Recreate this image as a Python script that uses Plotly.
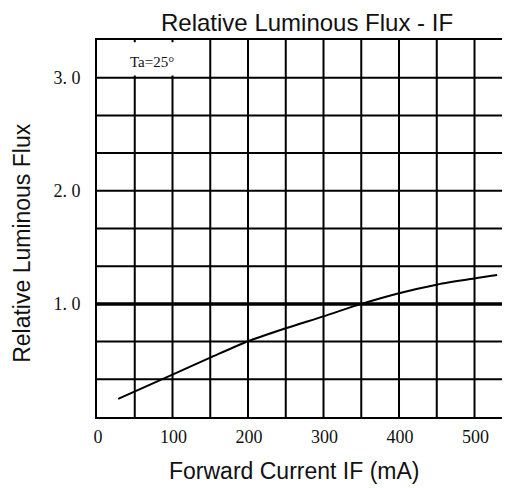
import plotly.graph_objects as go

# Data
if_ma = [28, 100, 150, 200, 250, 300, 350, 400, 450, 500, 530]
rel_flux = [0.16, 0.375, 0.525, 0.67, 0.785, 0.89, 1.0, 1.095, 1.17, 1.225, 1.255]

x_tick_vals = [0, 100, 200, 300, 400, 500]
x_tick_text = ["0", "100", "200", "300", "400", "500"]
y_tick_vals = [1.0, 2.0, 3.0]
y_tick_text = ["1. 0", "2. 0", "3. 0"]

X_MAX = 547
Y_MAX = 10 / 3

fig = go.Figure()
fig.add_trace(go.Scatter(x=if_ma, y=rel_flux, mode="lines",
                         line=dict(color="black", width=2, shape="spline", smoothing=0.8),
                         hoverinfo="skip", showlegend=False))

tick_font = dict(family="Liberation Serif, serif", size=18, color="#111")
label_font = dict(family="Liberation Sans, Arial, sans-serif", size=23, color="#111")

fig.update_xaxes(range=[0, X_MAX], tickvals=x_tick_vals, ticktext=x_tick_text,
                 showgrid=False, zeroline=False, automargin=False,
                 showline=True, linecolor="black", linewidth=2, mirror=True,
                 ticks="", ticklabelstandoff=2, ticklabelshift=1,
                 tickfont=tick_font)
fig.update_yaxes(range=[0, Y_MAX], tickvals=y_tick_vals, ticktext=y_tick_text,
                 showgrid=False, zeroline=False, automargin=False,
                 showline=True, linecolor="black", linewidth=2,
                 ticks="", ticklabelstandoff=11, tickfont=tick_font)

shapes = []
# vertical grid every 50 mA
for k in range(1, 11):
    xv = 50 * k
    shapes.append(dict(type="line", xref="x", yref="y", x0=xv, x1=xv, y0=0, y1=Y_MAX,
                       line=dict(color="black", width=2), layer="below"))
# horizontal grid every 1/3
for k in range(1, 10):
    yv = k / 3
    shapes.append(dict(type="line", xref="x", yref="y", x0=0, x1=X_MAX, y0=yv, y1=yv,
                       line=dict(color="black", width=3.5 if k == 3 else 2), layer="below"))
# label box in top-left cell
shapes.append(dict(type="rect", xref="x", yref="y", x0=2, x1=148, y0=3.02, y1=Y_MAX - 0.02,
                   fillcolor="white", line=dict(width=0), layer="below"))
fig.update_layout(shapes=shapes)

fig.add_annotation(x=73, y=3.14, xref="x", yref="y", text="Ta=25°", showarrow=False,
                   font=dict(family="Liberation Serif, serif", size=15, color="#111"))
fig.add_annotation(x=0.508, y=1.0, yshift=32, xref="paper", yref="paper",
                   text="Relative Luminous Flux - IF", showarrow=False,
                   xanchor="center", yanchor="top", borderpad=0,
                   font=dict(family="Liberation Sans, Arial, sans-serif", size=24, color="#111"))
fig.add_annotation(x=0.477, y=-0.143, xref="paper", yref="paper",
                   text="Forward Current IF (mA)", showarrow=False,
                   xanchor="center", yanchor="middle", font=label_font)
fig.add_annotation(x=-0.182, y=0.4615, xref="paper", yref="paper",
                   text="Relative Luminous Flux", showarrow=False, textangle=-90,
                   xanchor="center", yanchor="middle", font=label_font)

# page body adds an 8px offset, so the figure is drawn 8px smaller
fig.update_layout(
    width=502, height=480,
    margin=dict(l=89, r=0, t=32, b=71),
    plot_bgcolor="white", paper_bgcolor="white",
)

fig.write_html("out.html")
